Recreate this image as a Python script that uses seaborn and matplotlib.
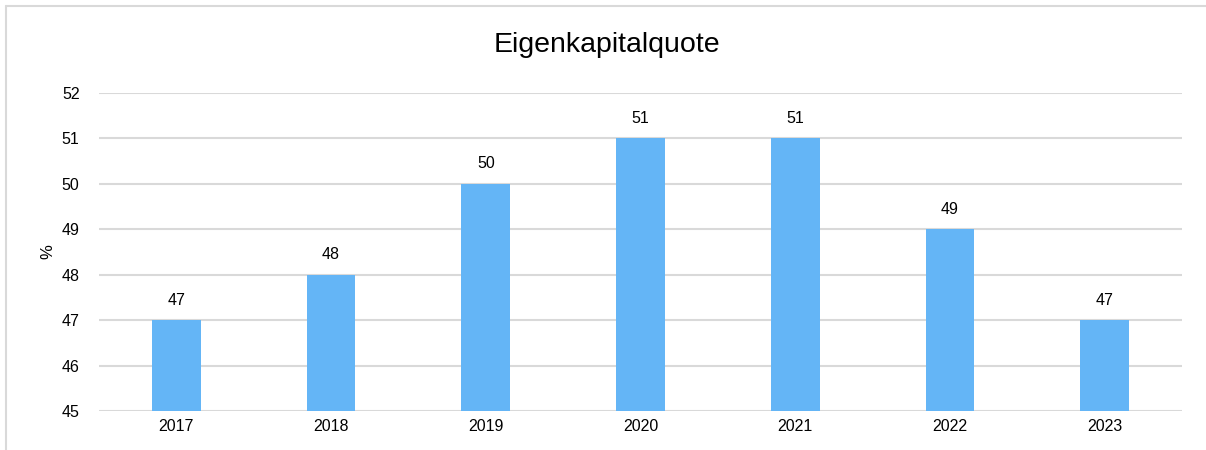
import matplotlib
matplotlib.use("Agg")
import matplotlib.pyplot as plt
import seaborn as sns
import pandas as pd
from matplotlib.lines import Line2D

# chart data
years = ["2017", "2018", "2019", "2020", "2021", "2022", "2023"]
quote = [47, 48, 50, 51, 51, 49, 47]

df = pd.DataFrame({"Jahr": years, "Quote": quote})

sns.set_theme(style="white")
plt.rcParams["font.family"] = ["Liberation Sans", "DejaVu Sans"]

fig = plt.figure(figsize=(12.06, 4.5), dpi=100)
ax = fig.add_axes([99 / 1206, 1 - 411 / 450, (1182 - 99) / 1206, (411 - 93) / 450])

sns.barplot(data=df, x="Jahr", y="Quote", color="#64B5F6", saturation=1,
            width=0.315, linewidth=0, ax=ax, zorder=3)

# value labels above the bars
for i, v in enumerate(quote):
    ax.annotate(str(v), (i, v), xytext=(0, 9), textcoords="offset points",
                ha="center", va="bottom", fontsize=11.5, color="#000000")

ax.set_ylim(45, 52)
ax.set_xlim(-0.5, len(years) - 0.5)
ax.set_yticks(range(45, 53))
ax.yaxis.grid(True, color="#D9D9D9", linewidth=1.5, zorder=0)
ax.set_axisbelow(True)
for s in ax.spines.values():
    s.set_visible(False)
ax.tick_params(axis="both", length=0, labelsize=11.5, colors="#000000")
ax.tick_params(axis="y", pad=14)
ax.tick_params(axis="x", pad=6)
ax.set_xlabel("")
ax.set_ylabel("%", fontsize=12, color="#000000", va="center")
ax.yaxis.set_label_coords(-0.047, 0.5)

fig.text(607 / 1206, 1 - 45 / 450, "Eigenkapitalquote", ha="center", va="center",
         fontsize=20.5, color="#000000")

# light frame lines (top and left)
fig.add_artist(Line2D([6 / 1206, 1.0], [1 - 6 / 450, 1 - 6 / 450],
                      color="#D9D9D9", linewidth=1.5, transform=fig.transFigure))
fig.add_artist(Line2D([6 / 1206, 6 / 1206], [0, 1 - 6 / 450],
                      color="#D9D9D9", linewidth=1.5, transform=fig.transFigure))

fig.savefig("out.png", dpi=100)
